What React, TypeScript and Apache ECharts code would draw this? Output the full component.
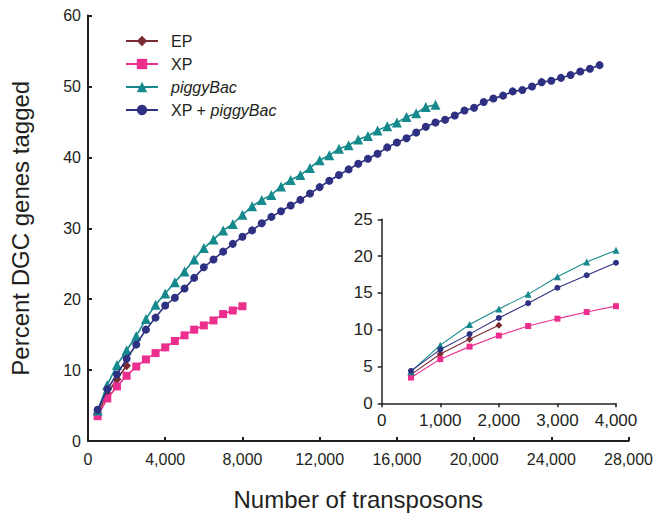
import React, { useEffect, useRef } from "react";
import * as echarts from "echarts";

// Number of transposons (x values), every 500
const transposons = [
  500, 1000, 1500, 2000, 2500, 3000, 3500, 4000, 4500, 5000,
  5500, 6000, 6500, 7000, 7500, 8000, 8500, 9000, 9500, 10000,
  10500, 11000, 11500, 12000, 12500, 13000, 13500, 14000, 14500, 15000,
  15500, 16000, 16500, 17000, 17500, 18000, 18500, 19000, 19500, 20000,
  20500, 21000, 21500, 22000, 22500, 23000, 23500, 24000, 24500, 25000,
  25500, 26000, 26500,
];

// Percent DGC genes tagged
const epValues = [3.9, 6.7, 8.7, 10.6];
const xpValues = [3.5, 6.0, 7.7, 9.2, 10.5, 11.5, 12.4, 13.2, 14.1, 14.9, 15.7, 16.3, 17.0, 17.9, 18.4, 19.0];
const piggyBacValues = [
  4.3, 7.9, 10.7, 12.8, 14.8, 17.2, 19.2, 20.8,
  22.4, 23.9, 25.6, 27.2, 28.4, 29.7, 30.6, 31.9,
  33.1, 34.0, 34.7, 35.9, 36.8, 37.5, 38.5, 39.6,
  40.3, 41.2, 41.7, 42.5, 43.0, 43.8, 44.4, 44.9,
  45.7, 46.2, 47.1, 47.4,
];
const xpPiggyBacValues = [
  4.4, 7.3, 9.4, 11.6, 13.6, 15.7, 17.4, 19.1,
  20.2, 21.5, 23.0, 24.5, 25.6, 26.7, 27.8, 28.8,
  29.7, 30.7, 31.6, 32.4, 33.2, 34.0, 34.9, 35.8,
  36.7, 37.5, 38.3, 39.1, 39.8, 40.5, 41.4, 42.1,
  42.7, 43.5, 44.3, 44.9, 45.3, 45.9, 46.6, 47.0,
  47.8, 48.3, 48.7, 49.3, 49.5, 50.0, 50.6, 50.8,
  51.2, 51.6, 52.1, 52.5, 53.0,
];

const seriesNames = ["EP", "XP", "piggyBac", "XP + piggyBac"];
const insetMaxX = 4000;

const mainXTicks = [0, 4000, 8000, 12000, 16000, 20000, 24000, 28000];
const mainYTicks = [0, 10, 20, 30, 40, 50, 60];
const insetXTicks = [0, 1000, 2000, 3000, 4000];
const insetYTicks = [0, 5, 10, 15, 20, 25];

const COLORS = ["#7a2c33", "#ec2f8e", "#15898b", "#2e3082"];
const SYMBOLS = ["diamond", "rect", "triangle", "circle"];
const MAIN_SIZES = [9, 8, 10, 8];
const INSET_SIZES = [7, 6, 7, 6];
const FONT = "'Liberation Sans', Arial, Helvetica, sans-serif";
const INK = "#231f20";

const allValues = [epValues, xpValues, piggyBacValues, xpPiggyBacValues];

function pairs(values: number[], limit?: number) {
  const out: number[][] = [];
  values.forEach((v, i) => {
    const x = transposons[i];
    if (limit === undefined || x <= limit) out.push([x, v]);
  });
  return out;
}

const fmt = (v: number) => v.toLocaleString("en-US");

export default function App() {
  const ref = useRef<HTMLDivElement>(null);
  useEffect(() => {
    if (!ref.current) return;
    const chart = echarts.init(ref.current, undefined, { renderer: "svg" });

    const axisCommon = (width: number, inside: boolean) => ({
      axisLine: { show: true, onZero: false, lineStyle: { color: INK, width } },
      axisTick: { show: true, inside, length: 4, lineStyle: { color: INK, width } },
      splitLine: { show: false },
    });

    const mainSeries = allValues.map((vals, i) => ({
      name: seriesNames[i],
      type: "line",
      xAxisIndex: 0,
      yAxisIndex: 0,
      data: pairs(vals),
      symbol: SYMBOLS[i],
      symbolSize: MAIN_SIZES[i],
      showSymbol: true,
      itemStyle: { color: COLORS[i] },
      lineStyle: { color: COLORS[i], width: 1.6 },
      z: 2 + i,
    }));
    const insetSeries = allValues.map((vals, i) => ({
      name: seriesNames[i],
      type: "line",
      xAxisIndex: 1,
      yAxisIndex: 1,
      data: pairs(vals, insetMaxX),
      symbol: SYMBOLS[i],
      symbolSize: INSET_SIZES[i],
      itemStyle: { color: COLORS[i] },
      lineStyle: { color: COLORS[i], width: 1.1 },
      z: 2 + i,
    }));

    chart.setOption({
      animation: false,
      backgroundColor: "#ffffff",
      textStyle: { fontFamily: FONT },
      legend: {
        data: seriesNames,
        orient: "vertical",
        left: 120,
        top: 27,
        itemWidth: 32,
        itemHeight: 13,
        itemGap: 5,
        selectedMode: false,
        formatter: (name: string) =>
          name === "piggyBac" ? "{i|piggyBac}" : name === "XP + piggyBac" ? "XP + {i|piggyBac}" : name,
        textStyle: {
          fontSize: 16,
          color: INK,
          fontFamily: FONT,
          lineHeight: 18,
          padding: [0, 0, 0, 8],
          rich: { i: { fontStyle: "italic", fontSize: 16, color: INK, fontFamily: FONT, lineHeight: 18 } },
        },
      },
      grid: [
        { left: 87.5, top: 15.5, width: 548, height: 435.5, containLabel: false },
        { left: 381.7, top: 219.3, width: 234.3, height: 184, containLabel: false },
      ],
      xAxis: [
        {
          type: "value",
          gridIndex: 0,
          min: mainXTicks[0],
          max: mainXTicks[mainXTicks.length - 1],
          interval: 4000,
          name: "Number of transposons",
          nameLocation: "middle",
          nameGap: 46,
          nameTextStyle: { fontSize: 24, color: INK, fontFamily: FONT },
          axisLabel: { fontSize: 16, color: INK, margin: 10, formatter: fmt, fontFamily: FONT },
          ...axisCommon(2, true),
        },
        {
          type: "value",
          gridIndex: 1,
          min: insetXTicks[0],
          max: insetXTicks[insetXTicks.length - 1],
          interval: 1000,
          axisLabel: { fontSize: 17, color: INK, margin: 9, formatter: fmt, fontFamily: FONT },
          ...axisCommon(1.5, false),
        },
      ],
      yAxis: [
        {
          type: "value",
          gridIndex: 0,
          min: mainYTicks[0],
          max: mainYTicks[mainYTicks.length - 1],
          interval: 10,
          name: "Percent DGC genes tagged",
          nameLocation: "middle",
          nameGap: 56,
          nameTextStyle: { fontSize: 24, color: INK, fontFamily: FONT },
          axisLabel: { fontSize: 16, color: INK, margin: 7, fontFamily: FONT },
          ...axisCommon(2, true),
        },
        {
          type: "value",
          gridIndex: 1,
          min: insetYTicks[0],
          max: insetYTicks[insetYTicks.length - 1],
          interval: 5,
          axisLabel: { fontSize: 17, color: INK, margin: 9, fontFamily: FONT },
          ...axisCommon(1.5, false),
        },
      ],
      series: [...mainSeries, ...insetSeries],
    });
    return () => chart.dispose();
  }, []);

  return (
    <div
      ref={ref}
      style={{ position: "fixed", left: 0, top: 0, width: 656, height: 516, background: "#fff" }}
    />
  );
}
